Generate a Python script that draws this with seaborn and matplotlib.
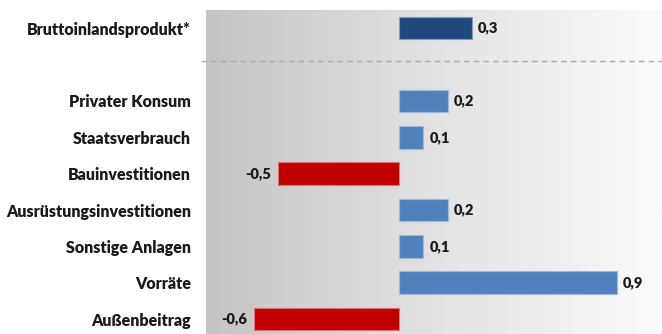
import numpy as np
import pandas as pd
import matplotlib
matplotlib.use("Agg")
import matplotlib.pyplot as plt
import seaborn as sns
from matplotlib.colors import LinearSegmentedColormap, to_rgb

categories = ["Bruttoinlandsprodukt*", "Privater Konsum", "Staatsverbrauch",
              "Bauinvestitionen", "Ausrüstungsinvestitionen", "Sonstige Anlagen",
              "Vorräte", "Außenbeitrag"]
values = [0.3, 0.2, 0.1, -0.5, 0.2, 0.1, 0.9, -0.6]
value_labels = ["0,3", "0,2", "0,1", "-0,5", "0,2", "0,1", "0,9", "-0,6"]
positions = [0, 2, 3, 4, 5, 6, 7, 8]

def color_for(i, v):
    if i == 0:
        return "#1F497D"
    return "#4F81BD" if v >= 0 else "#C00000"

palette = {c: color_for(i, v) for i, (c, v) in enumerate(zip(categories, values))}
df = pd.DataFrame({"cat": categories, "val": values, "pos": positions})

sns.set_theme(style="white")
plt.rcParams["font.family"] = ["Lato", "DejaVu Sans"]

fig = plt.figure(figsize=(6.62, 3.34), dpi=100)
ax = fig.add_axes([206 / 662, 0.0, 1 - 206 / 662, 1 - 10 / 334])

xmin, xmax = -0.80, 1.087
ymin, ymax = 8.41, -0.5

grad = np.linspace(0, 1, 256)[None, :]
cmap = LinearSegmentedColormap.from_list("bg", ["#c4c4c4", "#e2e2e2", "#fbfbfb"])
ax.imshow(grad, extent=[xmin, xmax, ymin, ymax], aspect="auto", cmap=cmap, zorder=0)

sns.barplot(data=df, x="val", y="pos", hue="cat", palette=palette, orient="h",
            native_scale=True, dodge=False, legend=False, width=0.62, saturation=1,
            linewidth=0.8, ax=ax, zorder=2)
for patch in ax.patches:
    fc = np.array(to_rgb(patch.get_facecolor()))
    patch.set_edgecolor(tuple(fc + (1 - fc) * 0.45))

ax.set_xlim(xmin, xmax)
ax.set_ylim(ymin, ymax)
ax.axhline(0.9, color="#ababab", linestyle=(0, (4, 3)), linewidth=1.0, zorder=1,
           xmin=-0.01, clip_on=False)

for pos, v, lab in zip(positions, values, value_labels):
    if v >= 0:
        ax.annotate(lab, (v, pos), xytext=(4.5, 0), textcoords="offset points",
                    ha="left", va="center", fontsize=10.5, fontweight="heavy", color="#1a1a1a")
    else:
        ax.annotate(lab, (v, pos), xytext=(-5, 0), textcoords="offset points",
                    ha="right", va="center", fontsize=10.5, fontweight="heavy", color="#1a1a1a")

ax.set_yticks(positions)
ax.set_yticklabels(categories, fontsize=11.5, fontweight="heavy", color="#1a1a1a")
ax.tick_params(axis="y", length=0, pad=11)
ax.set_xticks([])
ax.set_xlabel("")
ax.set_ylabel("")
for s in ax.spines.values():
    s.set_visible(False)

fig.savefig("out.png", dpi=100)
